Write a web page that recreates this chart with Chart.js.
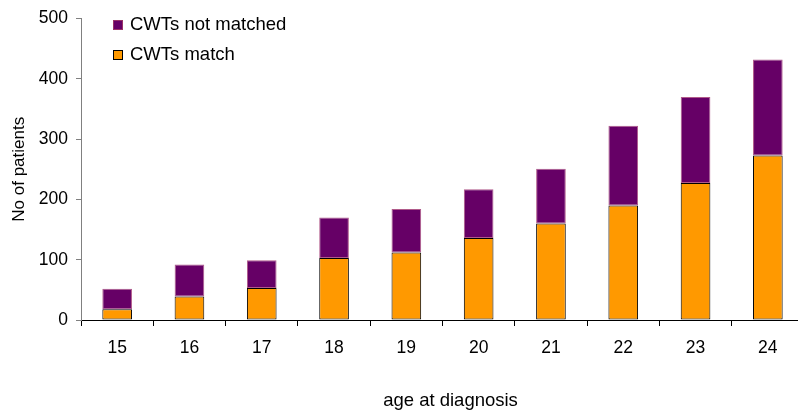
<!DOCTYPE html>
<html>
<head>
<meta charset="utf-8">
<script src="https://cdn.jsdelivr.net/npm/chart.js@4/dist/chart.umd.min.js"></script>
<style>
  html, body { margin: 0; padding: 0; overflow: hidden; background: #fff; }
  #wrap { width: 806px; height: 413px; }
</style>
</head>
<body>
<div id="wrap"><canvas id="myChart" width="806" height="413"></canvas></div>
<script>
// ages and patient counts
const ages = ["15", "16", "17", "18", "19", "20", "21", "22", "23", "24"];
const matched = [18, 39, 53, 103, 112, 136, 160, 190, 227, 273];
const notMatched = [34, 53, 46, 67, 72, 81, 91, 132, 143, 159];
const yTicks = [0, 100, 200, 300, 400, 500];
const xTitle = 'age at diagnosis';

const font = "'Liberation Sans', Arial, sans-serif";

// legend in the top left corner, x title sits a bit right of centre
const extras = {
    id: 'extras',
    afterDraw(chart) {
        const ctx = chart.ctx;
        const items = [chart.data.datasets[1], chart.data.datasets[0]];
        ctx.save();
        ctx.font = "18.5px " + font;
        ctx.textBaseline = 'middle';
        items.forEach((ds, i) => {
            const y = 25 + i * 30;
            ctx.fillStyle = ds.backgroundColor;
            ctx.fillRect(113, y - 5, 10, 10);
            ctx.strokeStyle = i === 0 ? '#993366' : '#000';
            ctx.lineWidth = 1;
            ctx.strokeRect(113.5, y - 4.5, 9, 9);
            ctx.fillStyle = '#000';
            ctx.fillText(ds.label, 130, y);
        });
        const area = chart.chartArea;
        ctx.textAlign = 'center';
        ctx.fillText(xTitle, (area.left + area.right) / 2 + 8, 401);
        ctx.restore();
    }
};

new Chart(document.getElementById('myChart'), {
    type: 'bar',
    data: {
        labels: ages,
        datasets: [{
            label: 'CWTs match',
            data: matched,
            backgroundColor: '#FF9900',
            borderColor: '#000000',
            borderWidth: 1,
            borderSkipped: false,
            barPercentage: 0.41,
            categoryPercentage: 1
        }, {
            label: 'CWTs not matched',
            data: notMatched,
            backgroundColor: '#660066',
            borderColor: '#B05A8A',
            borderWidth: 1,
            borderSkipped: false,
            barPercentage: 0.41,
            categoryPercentage: 1
        }]
    },
    options: {
        responsive: false,
        animation: false,
        layout: { padding: { top: 17, right: 2, left: 0, bottom: 0 } },
        plugins: {
            legend: { display: false },
            tooltip: { enabled: false }
        },
        scales: {
            x: {
                stacked: true,
                grid: {
                    offset: true,
                    drawOnChartArea: false,
                    tickLength: 6,
                    color: '#000'
                },
                border: { color: '#000', width: 1 },
                ticks: {
                    color: '#000',
                    font: { family: font, size: 17.5 },
                    padding: 12
                },
                afterFit: s => { s.height = 93; }
            },
            y: {
                stacked: true,
                min: 0,
                max: 500,
                afterBuildTicks: s => { s.ticks = yTicks.map(v => ({ value: v })); },
                grid: {
                    drawOnChartArea: false,
                    tickLength: 5,
                    color: '#808080'
                },
                border: { color: '#808080', width: 1 },
                ticks: {
                    color: '#000',
                    font: { family: font, size: 17.5 },
                    padding: 8
                },
                title: {
                    display: true,
                    text: 'No of patients',
                    color: '#000',
                    font: { family: font, size: 17 },
                    padding: { top: 9, bottom: 4 }
                },
                afterFit: s => { s.width = 81; }
            }
        }
    },
    plugins: [extras]
});
</script>
</body>
</html>
